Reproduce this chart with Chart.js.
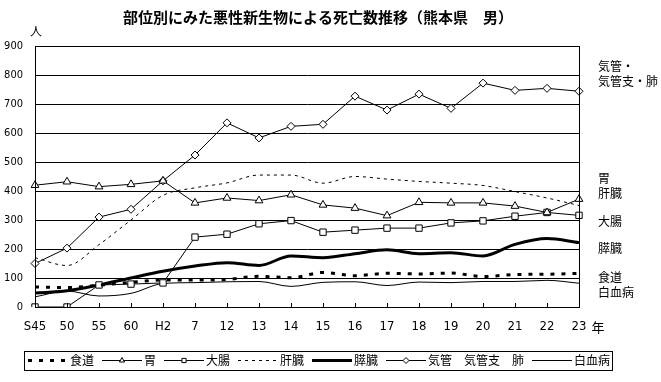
<!DOCTYPE html>
<html>
<head>
<meta charset="utf-8">
<script src="https://cdn.jsdelivr.net/npm/chart.js@4.4.1/dist/chart.umd.min.js"></script>
<style>
html,body{margin:0;padding:0;background:#fff;}
#wrap{position:relative;width:661px;height:382px;}
</style>
</head>
<body>
<div id="wrap"><canvas id="c" width="661" height="382"></canvas></div>
<script>
const titleText = '部位別にみた悪性新生物による死亡数推移（熊本県　男）';
const categories = ['S45','50','55','60','H2','7','12','13','14','15','16','17','18','19','20','21','22','23'];
const esophagus = [69, 67, 75, 85, 93, 93, 95, 106, 101, 119, 108, 116, 114, 117, 105, 112, 113, 116];
const stomach   = [420, 432, 415, 423, 435, 359, 376, 367, 387, 352, 341, 315, 361, 359, 359, 348, 326, 372];
const colon     = [0, 0, 76, 79, 83, 241, 251, 287, 298, 258, 265, 272, 272, 290, 297, 313, 326, 316];
const liver     = [170, 143, 215, 300, 385, 411, 428, 455, 455, 427, 450, 441, 433, 427, 419, 398, 376, 350];
const pancreas  = [48, 56, 76, 100, 123, 141, 153, 143, 176, 170, 184, 197, 184, 187, 176, 216, 236, 222];
const lung      = [150, 203, 310, 337, 435, 524, 635, 583, 623, 630, 727, 679, 734, 685, 772, 747, 754, 744];
const leukemia  = [35, 55, 38, 47, 81, 84, 87, 88, 71, 85, 87, 74, 86, 84, 88, 88, 92, 82];
const seriesNames = ['食道','胃','大腸','肝臓','膵臓','気管　気管支　肺','白血病'];
const sideLabels = [
  ['気管・', 66], ['気管支・肺', 81], ['胃', 178], ['肝臓', 193],
  ['大腸', 221], ['膵臓', 248], ['食道', 277], ['白血病', 292]
];
const yUnit = '人';
const xUnit = '年';

const JP = "'Noto Sans CJK JP', sans-serif";
const NUM = "'Liberation Sans Narrow', 'DejaVu Sans Condensed', sans-serif";

function ds(label, data, o) {
  return Object.assign({
    label, data, borderColor:'#000', backgroundColor:'#fff', borderWidth:1,
    pointRadius:0, pointBackgroundColor:'#fff', pointBorderColor:'#000', pointBorderWidth:1,
    tension:0, fill:false
  }, o);
}

const datasets = [
  ds(seriesNames[0], esophagus, {borderWidth:3, borderDash:[4,7], cubicInterpolationMode:'monotone', tension:0.4}),
  ds(seriesNames[1], stomach, {pointStyle:'triangle', pointRadius:4.5}),
  ds(seriesNames[2], colon, {pointStyle:'rect', pointRadius:4.5}),
  ds(seriesNames[3], liver, {borderDash:[3,4], cubicInterpolationMode:'monotone', tension:0.4}),
  ds(seriesNames[4], pancreas, {borderWidth:3, cubicInterpolationMode:'monotone', tension:0.4}),
  ds(seriesNames[5], lung, {pointStyle:'rectRot', pointRadius:4}),
  ds(seriesNames[6], leukemia, {cubicInterpolationMode:'monotone', tension:0.4})
];

const extras = {
  id:'extras',
  afterDraw(chart) {
    const ctx = chart.ctx, a = chart.chartArea, xs = chart.scales.x;
    ctx.save();
    // frame
    ctx.strokeStyle = '#000'; ctx.lineWidth = 1; ctx.setLineDash([]);
    ctx.strokeRect(Math.round(a.left)+0.5, Math.round(a.top)+0.5, Math.round(a.right-a.left), Math.round(a.bottom-a.top));
    // inward ticks
    ctx.beginPath();
    for (let i = 0; i < categories.length; i++) {
      const px = Math.round(xs.getPixelForTick(i)) + 0.5;
      ctx.moveTo(px, a.bottom); ctx.lineTo(px, a.bottom - 4);
    }
    ctx.stroke();
    // title
    ctx.fillStyle = '#000';
    ctx.textAlign = 'center'; ctx.textBaseline = 'middle';
    ctx.font = 'bold 15px ' + JP;
    ctx.fillText(titleText, 318, 17);
    ctx.font = '12px ' + JP;
    ctx.fillText(yUnit, 36, 31);
    ctx.font = '13px ' + JP;
    ctx.fillText(xUnit, 598, 327);
    // side labels
    ctx.textAlign = 'left';
    ctx.font = '12px ' + JP;
    sideLabels.forEach(([t, y]) => ctx.fillText(t, 598, y));
    // legend
    const lx0 = 24, lx1 = 612, ly0 = 351, ly1 = 370, ly = 360.5;
    ctx.strokeRect(lx0+0.5, ly0+0.5, lx1-lx0, ly1-ly0);
    let x = 28;
    ctx.font = '12px ' + JP;
    chart.data.datasets.forEach(d => {
      const w = 40;
      ctx.save();
      ctx.strokeStyle = '#000';
      ctx.lineWidth = d.borderWidth;
      ctx.setLineDash(d.borderDash || []);
      ctx.beginPath(); ctx.moveTo(x, ly); ctx.lineTo(x + w, ly); ctx.stroke();
      ctx.setLineDash([]);
      if (d.pointStyle) {
        ctx.fillStyle = '#fff'; ctx.strokeStyle = '#000'; ctx.lineWidth = 1;
        Chart.helpers.drawPoint(ctx, {pointStyle:d.pointStyle, radius:3, rotation:0, borderWidth:1}, x + w/2, ly);
      }
      ctx.restore();
      x += w + 2;
      ctx.fillStyle = '#000';
      ctx.textAlign = 'left';
      ctx.fillText(d.label, x, ly);
      x += ctx.measureText(d.label).width + 8;
    });
    ctx.restore();
  }
};

new Chart(document.getElementById('c'), {
  type:'line',
  data:{labels:categories, datasets},
  options:{
    responsive:false, animation:false, devicePixelRatio:1,
    layout:{padding:{top:46, right:82, bottom:0, left:0}},
    plugins:{legend:{display:false}, title:{display:false}, tooltip:{enabled:false}},
    scales:{
      x:{
        offset:false,
        grid:{display:false, drawTicks:false},
        border:{display:false},
        ticks:{color:'#000', font:{family:NUM, size:13}, padding:12, maxRotation:0, autoSkip:false},
        afterFit(s){ s.height = 75; }
      },
      y:{
        min:0, max:900,
        grid:{color:'#000', lineWidth:1, drawTicks:false},
        border:{display:true, color:'#000'},
        ticks:{stepSize:100, color:'#000', font:{family:NUM, size:11}, padding:12},
        afterFit(s){ s.width = 35; }
      }
    }
  },
  plugins:[extras]
});
</script>
</body>
</html>
